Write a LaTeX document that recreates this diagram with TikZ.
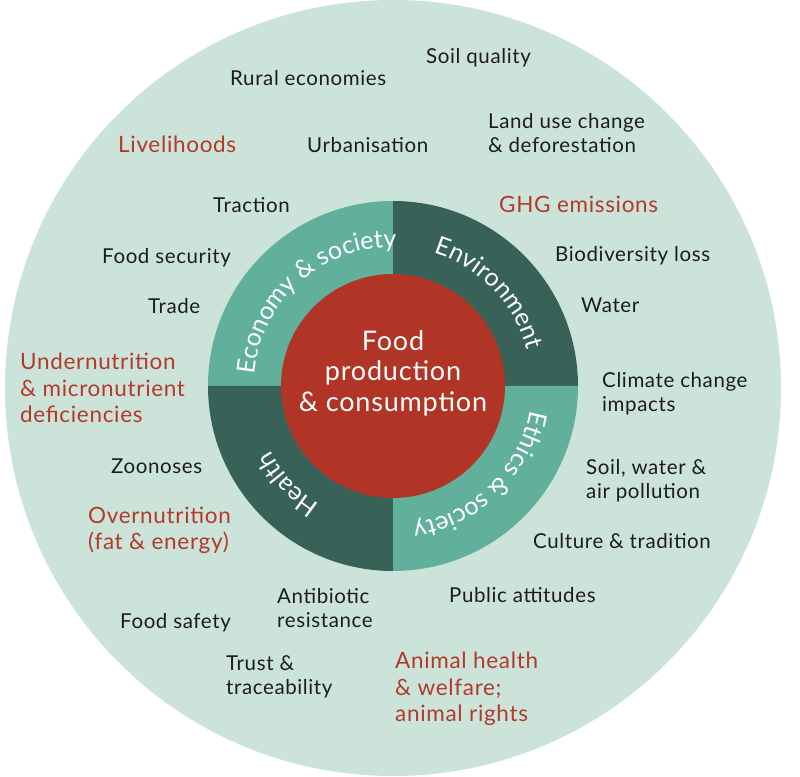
\documentclass[tikz,border=0pt]{standalone}
\usepackage{fontspec}
\setmainfont{Lato}[LetterSpace=3]
\newfontfamily\ringfont{Lato}
\usetikzlibrary{decorations.text}
\definecolor{bgmint}{HTML}{CCE3DA}
\definecolor{lightteal}{HTML}{60B09B}
\definecolor{darkteal}{HTML}{386258}
\definecolor{corered}{HTML}{B03527}
\definecolor{redtext}{HTML}{B23A2A}
\definecolor{blacktext}{HTML}{1C1C1C}
\tikzset{
  lbl/.style={anchor=base west, inner sep=0pt, align=left, text=blacktext,
    font=\fontsize{20.5}{24.7}\selectfont},
  keylbl/.style={anchor=base west, inner sep=0pt, align=left, text=redtext,
    font=\fontsize{22.5}{26.7}\selectfont},
  coredisc/.style={circle, fill=corered, minimum size=224pt, inner sep=0pt},
  coretext/.style={text=white, align=center, inner sep=0pt,
    font=\fontsize{27}{30.5}\selectfont},
}
\begin{document}
\begin{tikzpicture}[x=1pt,y=1pt]
\useasboundingbox (0,0) rectangle (800,776);
\fill[bgmint] (393,388) circle[radius=388];
\coordinate (C) at (393,390);
% ring quadrants
\fill[lightteal] (C) -- ++(90:185) arc[start angle=90,end angle=180,radius=185] -- cycle;
\fill[darkteal] (C) -- ++(0:185) arc[start angle=0,end angle=90,radius=185] -- cycle;
\fill[darkteal] (C) -- ++(180:185) arc[start angle=180,end angle=270,radius=185] -- cycle;
\fill[lightteal] (C) -- ++(270:185) arc[start angle=270,end angle=360,radius=185] -- cycle;
% core
\node[coredisc] (core) at (C) {};
\node[coretext] (coretxt) at (393,403) {Food\\production\\\& consumption};
% ring labels
\path[decorate, decoration={text along path, text align=center,
  text={|\color{white}\ringfont\fontsize{25}{25}\selectfont|Economy {\&} society}}]
  (C) ++(177:139) arc[start angle=177, end angle=87, radius=139];
\path[decorate, decoration={text along path, text align=center,
  text={|\color{white}\ringfont\fontsize{25}{25}\selectfont|Environment}}]
  (C) ++(90:139) arc[start angle=90, end angle=-2, radius=139];
\path[decorate, decoration={text along path, text align=center,
  text={|\color{white}\ringfont\fontsize{25}{25}\selectfont|Ethics {\&} society}}]
  (C) ++(0:139) arc[start angle=0, end angle=-92, radius=139];
\path[decorate, decoration={text along path, text align=center,
  text={|\color{white}\ringfont\fontsize{25}{25}\selectfont|Health}}]
  (C) ++(268:139) arc[start angle=268, end angle=178, radius=139];
% outer labels (base anchor = baseline of last line)
\node[lbl] (soilq) at (426,712) {Soil quality};
\node[lbl] (rural) at (230,690) {Rural economies};
\node[lbl] (landuse) at (488,623) {Land use change\\\& deforestation};
\node[keylbl] (liveli) at (118,623) {Livelihoods};
\node[lbl] (urban) at (307,623) {Urbanisation};
\node[lbl] (traction) at (213,563) {Traction};
\node[keylbl] (ghg) at (499,563) {GHG emissions};
\node[lbl] (foodsec) at (102,512) {Food security};
\node[lbl] (biodiv) at (555,514) {Biodiversity loss};
\node[lbl] (trade) at (148,462) {Trade};
\node[lbl] (water) at (581,463) {Water};
\node[keylbl] (undernut) at (20,353) {Undernutrition\\\& micronutrient\\deficiencies};
\node[lbl] (climate) at (602,364) {Climate change\\impacts};
\node[lbl] (zoon) at (111,302) {Zoonoses};
\node[lbl] (pollution) at (586,277) {Soil, water \&\\air pollution};
\node[keylbl] (overnut) at (88,226) {Overnutrition\\(fat \& energy)};
\node[lbl] (culture) at (533,227) {Culture \& tradition};
\node[lbl] (antibio) at (277,148) {Antibiotic\\resistance};
\node[lbl] (public) at (449,173) {Public attitudes};
\node[lbl] (foodsafe) at (120,147) {Food safety};
\node[lbl] (trust) at (226,81) {Trust \&\\traceability};
\node[keylbl] (animal) at (395,54) {Animal health\\\& welfare;\\animal rights};
\end{tikzpicture}
\end{document}
